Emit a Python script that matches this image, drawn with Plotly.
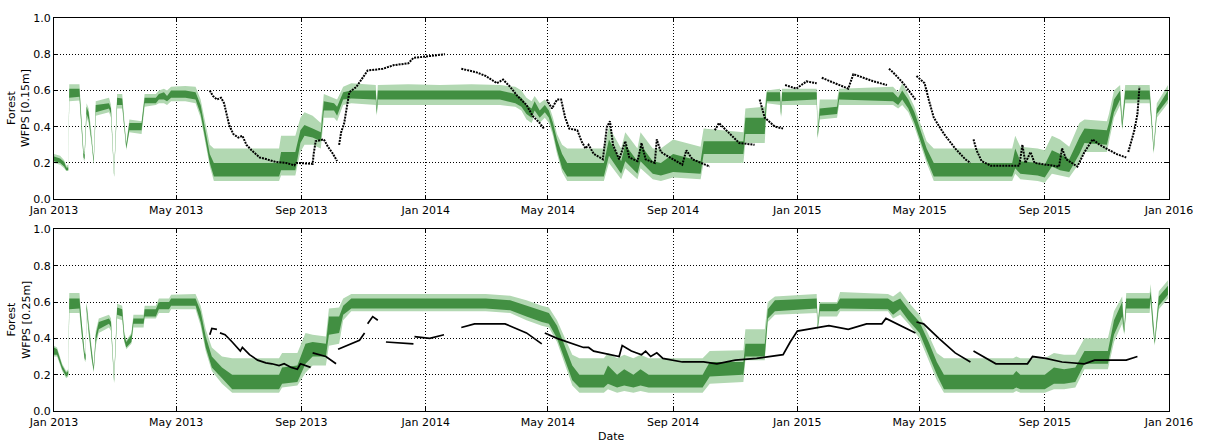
import plotly.graph_objects as go

# ---------------- upper panel (0.15 m) : simulated WFPS bands ----------------
top_dates = [
    "2013-01-01", "2013-01-07", "2013-01-11", "2013-01-13", "2013-01-15", "2013-01-16", "2013-01-26", "2013-01-28", "2013-01-30", "2013-01-31",
    "2013-02-02", "2013-02-04", "2013-02-07", "2013-02-09", "2013-02-11", "2013-02-24", "2013-02-26", "2013-03-01", "2013-03-04", "2013-03-09",
    "2013-03-11", "2013-03-13", "2013-03-16", "2013-03-28", "2013-03-31", "2013-04-11", "2013-04-14", "2013-04-19", "2013-04-22", "2013-04-26",
    "2013-05-10", "2013-05-20", "2013-05-25", "2013-05-30", "2013-06-03", "2013-06-07", "2013-08-10", "2013-08-12", "2013-08-26", "2013-08-31",
    "2013-09-04", "2013-09-12", "2013-09-20", "2013-09-23", "2013-10-03", "2013-10-06", "2013-10-12", "2013-10-20", "2013-11-13", "2013-11-14",
    "2013-11-15", "2013-12-15", "2014-01-15", "2014-02-15", "2014-03-15", "2014-03-30", "2014-04-05", "2014-04-10", "2014-04-15", "2014-04-18",
    "2014-04-23", "2014-04-28", "2014-05-02", "2014-05-06", "2014-05-10", "2014-05-15", "2014-05-20", "2014-06-25", "2014-06-30", "2014-07-12",
    "2014-07-16", "2014-07-28", "2014-07-31", "2014-08-12", "2014-08-20", "2014-09-01", "2014-09-28", "2014-10-01", "2014-11-09", "2014-11-11",
    "2014-11-30", "2014-12-02", "2014-12-15", "2014-12-16", "2014-12-17", "2015-01-20", "2015-01-21", "2015-01-23", "2015-02-09", "2015-02-11",
    "2015-04-05", "2015-04-10", "2015-04-14", "2015-04-20", "2015-04-26", "2015-05-02", "2015-05-08", "2015-05-15", "2015-07-31", "2015-08-03",
    "2015-08-08", "2015-08-25", "2015-09-01", "2015-09-08", "2015-09-16", "2015-09-25", "2015-10-05", "2015-10-10", "2015-11-01", "2015-11-03",
    "2015-11-08", "2015-11-14", "2015-11-16", "2015-11-19", "2015-12-13", "2015-12-17", "2015-12-20", "2015-12-31",
]
top_outer_lo = [
    0.20, 0.19, 0.17, 0.155, 0.155, 0.54, 0.545, 0.38, 0.22, 0.21,
    0.45, 0.42, 0.30, 0.19, 0.46, 0.48, 0.45, 0.12, 0.50, 0.50,
    0.38, 0.27, 0.37, 0.36, 0.51, 0.52, 0.53, 0.53, 0.52, 0.54,
    0.54, 0.53, 0.45, 0.30, 0.18, 0.10, 0.10, 0.13, 0.13, 0.26,
    0.30, 0.30, 0.28, 0.45, 0.45, 0.43, 0.52, 0.53, 0.52, 0.46,
    0.52, 0.52, 0.52, 0.52, 0.52, 0.51, 0.49, 0.44, 0.42, 0.46,
    0.42, 0.45, 0.42, 0.35, 0.25, 0.15, 0.10, 0.10, 0.20, 0.11,
    0.17, 0.11, 0.17, 0.11, 0.10, 0.12, 0.11, 0.20, 0.20, 0.31,
    0.31, 0.53, 0.52, 0.45, 0.52, 0.52, 0.33, 0.44, 0.45, 0.52,
    0.52, 0.50, 0.52, 0.48, 0.40, 0.30, 0.20, 0.10, 0.10, 0.14,
    0.11, 0.10, 0.09, 0.14, 0.13, 0.12, 0.20, 0.26, 0.26, 0.30,
    0.45, 0.52, 0.38, 0.53, 0.53, 0.25, 0.45, 0.53,
]
top_inner_lo = [
    0.21, 0.20, 0.18, 0.16, 0.16, 0.56, 0.565, 0.40, 0.23, 0.22,
    0.47, 0.44, 0.31, 0.20, 0.48, 0.50, 0.47, 0.125, 0.52, 0.52,
    0.39, 0.28, 0.38, 0.38, 0.53, 0.53, 0.55, 0.55, 0.54, 0.56,
    0.56, 0.55, 0.47, 0.32, 0.20, 0.125, 0.125, 0.16, 0.16, 0.31,
    0.35, 0.34, 0.32, 0.49, 0.49, 0.46, 0.55, 0.555, 0.55, 0.47,
    0.55, 0.55, 0.55, 0.55, 0.55, 0.53, 0.51, 0.47, 0.45, 0.49,
    0.45, 0.48, 0.45, 0.37, 0.27, 0.17, 0.125, 0.125, 0.24, 0.14,
    0.21, 0.14, 0.21, 0.14, 0.13, 0.15, 0.14, 0.25, 0.25, 0.36,
    0.36, 0.54, 0.54, 0.46, 0.54, 0.55, 0.34, 0.46, 0.47, 0.55,
    0.54, 0.52, 0.55, 0.50, 0.42, 0.32, 0.22, 0.125, 0.125, 0.17,
    0.14, 0.13, 0.12, 0.18, 0.16, 0.15, 0.25, 0.31, 0.30, 0.34,
    0.48, 0.55, 0.39, 0.55, 0.55, 0.26, 0.47, 0.55,
]
top_inner_hi = [
    0.235, 0.225, 0.205, 0.175, 0.175, 0.61, 0.61, 0.44, 0.255, 0.245,
    0.51, 0.48, 0.34, 0.22, 0.52, 0.53, 0.50, 0.14, 0.56, 0.555,
    0.42, 0.30, 0.42, 0.42, 0.56, 0.56, 0.58, 0.59, 0.57, 0.60,
    0.60, 0.59, 0.52, 0.38, 0.25, 0.20, 0.20, 0.26, 0.26, 0.38,
    0.41, 0.39, 0.37, 0.54, 0.53, 0.51, 0.59, 0.60, 0.60, 0.50,
    0.60, 0.60, 0.60, 0.60, 0.60, 0.58, 0.56, 0.52, 0.50, 0.54,
    0.49, 0.52, 0.49, 0.42, 0.33, 0.25, 0.20, 0.20, 0.33, 0.21,
    0.30, 0.21, 0.30, 0.21, 0.20, 0.25, 0.21, 0.32, 0.32, 0.45,
    0.45, 0.59, 0.59, 0.48, 0.59, 0.59, 0.37, 0.50, 0.51, 0.59,
    0.59, 0.56, 0.60, 0.55, 0.48, 0.38, 0.28, 0.20, 0.20, 0.28,
    0.21, 0.20, 0.19, 0.27, 0.25, 0.22, 0.34, 0.39, 0.38, 0.42,
    0.55, 0.60, 0.42, 0.60, 0.60, 0.28, 0.50, 0.60,
]
top_outer_hi = [
    0.25, 0.24, 0.215, 0.185, 0.19, 0.635, 0.635, 0.46, 0.27, 0.26,
    0.53, 0.50, 0.36, 0.23, 0.54, 0.56, 0.52, 0.15, 0.58, 0.58,
    0.44, 0.31, 0.44, 0.43, 0.58, 0.58, 0.60, 0.61, 0.60, 0.62,
    0.625, 0.62, 0.55, 0.42, 0.30, 0.28, 0.28, 0.35, 0.35, 0.45,
    0.48, 0.46, 0.42, 0.58, 0.56, 0.55, 0.62, 0.64, 0.63, 0.52,
    0.63, 0.635, 0.63, 0.635, 0.63, 0.62, 0.60, 0.56, 0.54, 0.57,
    0.53, 0.55, 0.52, 0.45, 0.36, 0.30, 0.28, 0.28, 0.40, 0.28,
    0.37, 0.28, 0.37, 0.28, 0.28, 0.33, 0.29, 0.39, 0.37, 0.50,
    0.51, 0.60, 0.61, 0.50, 0.61, 0.61, 0.40, 0.55, 0.55, 0.61,
    0.62, 0.59, 0.64, 0.58, 0.51, 0.42, 0.32, 0.28, 0.28, 0.35,
    0.29, 0.28, 0.27, 0.35, 0.33, 0.29, 0.42, 0.44, 0.43, 0.47,
    0.60, 0.63, 0.45, 0.63, 0.63, 0.30, 0.53, 0.63,
]

# upper panel : measured WFPS (None marks a break in the record)
top_obs_dates = [
    "2013-06-03", "2013-06-06", "2013-06-10", "2013-06-14", "2013-06-17", "2013-06-19", "2013-06-22", "2013-06-26", "2013-07-01", "2013-07-05",
    "2013-07-09", "2013-07-14", "2013-07-22", "2013-07-29", "2013-08-07", "2013-08-17", "2013-08-25", "2013-08-27", "2013-09-12", "2013-09-13",
    "2013-09-15", "2013-09-23", "2013-09-27", "2013-10-02", "2013-10-06", None,
    "2013-10-08", "2013-10-10", "2013-10-13", "2013-10-15", "2013-10-18", "2013-10-25", "2013-11-01", "2013-11-05", "2013-11-20", "2013-12-01",
    "2013-12-15", "2013-12-20", "2014-01-05", "2014-01-20", None,
    "2014-02-05", "2014-02-20", "2014-03-01", "2014-03-12", "2014-03-18", "2014-03-25", "2014-04-01", "2014-04-10", "2014-04-16", "2014-04-23",
    "2014-04-27", None,
    "2014-04-30", "2014-05-05", "2014-05-10", "2014-05-14", "2014-05-18", "2014-05-22", "2014-05-30", "2014-06-03", "2014-06-07", "2014-06-10",
    "2014-06-15", "2014-06-24", "2014-06-28", "2014-07-01", "2014-07-04", "2014-07-10", "2014-07-16", "2014-07-20", "2014-07-28", "2014-08-01",
    "2014-08-05", "2014-08-14", "2014-08-16", "2014-08-20", "2014-09-10", "2014-09-14", "2014-09-20", "2014-10-07", None,
    "2014-10-12", "2014-10-16", "2014-10-25", "2014-11-05", "2014-11-20", None,
    "2014-11-25", "2014-11-30", "2014-12-10", "2014-12-18", None,
    "2014-12-20", "2014-12-31", "2015-01-10", "2015-01-20", None,
    "2015-01-25", "2015-02-20", "2015-02-25", "2015-03-17", "2015-03-30", None,
    "2015-04-01", "2015-04-05", "2015-04-15", "2015-04-27", None,
    "2015-04-28", "2015-05-06", "2015-05-10", "2015-05-15", "2015-05-25", "2015-06-05", "2015-06-15", "2015-06-20", None,
    "2015-06-23", "2015-06-26", "2015-07-01", "2015-07-10", "2015-08-07", "2015-08-10", "2015-08-13", "2015-08-18", "2015-08-22", "2015-09-15",
    "2015-09-18", "2015-09-22", "2015-10-03", "2015-10-10", "2015-10-18", "2015-10-25", "2015-11-10", "2015-11-20", None,
    "2015-11-22", "2015-11-28", "2015-12-01", "2015-12-03",
]
top_obs_values = [
    0.60, 0.57, 0.55, 0.56, 0.53, 0.48, 0.41, 0.36, 0.34, 0.35,
    0.30, 0.27, 0.23, 0.22, 0.205, 0.20, 0.187, 0.20, 0.195, 0.25,
    0.32, 0.33, 0.29, 0.25, 0.21, None,
    0.30, 0.37, 0.42, 0.49, 0.59, 0.62, 0.68, 0.71, 0.72, 0.74,
    0.75, 0.78, 0.79, 0.80, None,
    0.72, 0.70, 0.68, 0.64, 0.66, 0.62, 0.57, 0.52, 0.46, 0.42,
    0.39, None,
    0.55, 0.50, 0.55, 0.55, 0.45, 0.39, 0.38, 0.32, 0.28, 0.30,
    0.25, 0.22, 0.40, 0.43, 0.30, 0.22, 0.32, 0.23, 0.21, 0.31,
    0.22, 0.20, 0.33, 0.26, 0.19, 0.27, 0.22, 0.18, None,
    0.38, 0.42, 0.37, 0.31, 0.30, None,
    0.55, 0.45, 0.40, 0.39, None,
    0.63, 0.61, 0.65, 0.64, None,
    0.67, 0.61, 0.69, 0.65, 0.63, None,
    0.72, 0.70, 0.64, 0.55, None,
    0.68, 0.64, 0.55, 0.45, 0.36, 0.28, 0.22, 0.20, None,
    0.33, 0.27, 0.21, 0.185, 0.185, 0.30, 0.20, 0.26, 0.20, 0.18,
    0.28, 0.22, 0.18, 0.26, 0.33, 0.30, 0.25, 0.23, None,
    0.26, 0.38, 0.47, 0.62,
]

# ---------------- lower panel (0.25 m) : simulated WFPS bands ----------------
bot_dates = [
    "2013-01-01", "2013-01-04", "2013-01-09", "2013-01-13", "2013-01-15", "2013-01-16", "2013-01-26", "2013-01-28", "2013-01-31", "2013-02-01",
    "2013-02-02", "2013-02-04", "2013-02-07", "2013-02-09", "2013-02-11", "2013-02-14", "2013-02-24", "2013-02-26", "2013-03-01", "2013-03-04",
    "2013-03-09", "2013-03-11", "2013-03-13", "2013-03-18", "2013-03-20", "2013-03-30", "2013-03-31", "2013-04-11", "2013-04-14", "2013-04-24",
    "2013-04-26", "2013-05-20", "2013-05-25", "2013-05-30", "2013-06-05", "2013-06-15", "2013-06-25", "2013-08-10", "2013-08-13", "2013-08-28",
    "2013-09-05", "2013-09-12", "2013-09-25", "2013-09-28", "2013-10-08", "2013-10-12", "2013-10-20", "2014-03-01", "2014-03-25", "2014-04-10",
    "2014-04-25", "2014-05-02", "2014-05-10", "2014-05-18", "2014-05-25", "2014-06-01", "2014-06-25", "2014-06-29", "2014-07-08", "2014-07-15",
    "2014-07-24", "2014-07-31", "2014-08-08", "2014-09-30", "2014-10-07", "2014-11-09", "2014-11-11", "2014-11-30", "2014-12-03", "2014-12-10",
    "2015-01-20", "2015-01-21", "2015-01-23", "2015-02-09", "2015-02-12", "2015-03-31", "2015-04-05", "2015-04-12", "2015-04-20", "2015-05-01",
    "2015-05-10", "2015-05-18", "2015-05-25", "2015-08-01", "2015-08-04", "2015-08-08", "2015-09-01", "2015-09-10", "2015-09-20", "2015-10-01",
    "2015-10-10", "2015-11-02", "2015-11-08", "2015-11-16", "2015-11-18", "2015-11-20", "2015-12-13", "2015-12-14", "2015-12-16", "2015-12-18",
    "2015-12-22", "2015-12-31",
]
bot_outer_lo = [
    0.30, 0.30, 0.22, 0.18, 0.19, 0.54, 0.54, 0.42, 0.28, 0.27,
    0.55, 0.42, 0.28, 0.21, 0.36, 0.43, 0.46, 0.44, 0.15, 0.51,
    0.50, 0.38, 0.34, 0.37, 0.46, 0.46, 0.51, 0.51, 0.54, 0.54,
    0.56, 0.56, 0.47, 0.33, 0.22, 0.15, 0.10, 0.10, 0.13, 0.14,
    0.21, 0.25, 0.25, 0.36, 0.37, 0.50, 0.55, 0.55, 0.54, 0.50,
    0.47, 0.46, 0.38, 0.25, 0.14, 0.10, 0.10, 0.12, 0.10, 0.11,
    0.10, 0.11, 0.10, 0.10, 0.15, 0.16, 0.28, 0.28, 0.49, 0.53,
    0.54, 0.44, 0.52, 0.52, 0.55, 0.55, 0.51, 0.53, 0.48, 0.40,
    0.28, 0.17, 0.10, 0.10, 0.11, 0.10, 0.10, 0.12, 0.12, 0.13,
    0.23, 0.23, 0.38, 0.48, 0.42, 0.54, 0.54, 0.60, 0.45, 0.36,
    0.56, 0.62,
]
bot_inner_lo = [
    0.31, 0.31, 0.23, 0.19, 0.20, 0.56, 0.565, 0.44, 0.29, 0.28,
    0.56, 0.44, 0.29, 0.22, 0.38, 0.45, 0.48, 0.46, 0.16, 0.53,
    0.52, 0.39, 0.35, 0.38, 0.48, 0.48, 0.52, 0.52, 0.56, 0.56,
    0.58, 0.58, 0.49, 0.35, 0.24, 0.18, 0.12, 0.12, 0.15, 0.16,
    0.26, 0.30, 0.30, 0.42, 0.43, 0.53, 0.565, 0.565, 0.555, 0.52,
    0.49, 0.48, 0.40, 0.28, 0.17, 0.13, 0.13, 0.15, 0.13, 0.14,
    0.13, 0.14, 0.13, 0.13, 0.19, 0.20, 0.30, 0.30, 0.51, 0.55,
    0.565, 0.45, 0.55, 0.55, 0.565, 0.56, 0.53, 0.56, 0.50, 0.43,
    0.31, 0.20, 0.12, 0.12, 0.13, 0.12, 0.12, 0.15, 0.15, 0.16,
    0.26, 0.26, 0.42, 0.52, 0.43, 0.565, 0.565, 0.62, 0.47, 0.37,
    0.58, 0.64,
]
bot_inner_hi = [
    0.35, 0.34, 0.25, 0.21, 0.22, 0.62, 0.62, 0.48, 0.32, 0.31,
    0.59, 0.47, 0.31, 0.24, 0.42, 0.49, 0.51, 0.49, 0.18, 0.57,
    0.56, 0.42, 0.38, 0.42, 0.51, 0.51, 0.56, 0.56, 0.60, 0.60,
    0.62, 0.62, 0.55, 0.41, 0.30, 0.24, 0.20, 0.20, 0.24, 0.25,
    0.37, 0.38, 0.37, 0.52, 0.52, 0.58, 0.62, 0.62, 0.61, 0.58,
    0.55, 0.54, 0.47, 0.35, 0.25, 0.20, 0.20, 0.25, 0.20, 0.23,
    0.20, 0.23, 0.20, 0.20, 0.27, 0.27, 0.37, 0.37, 0.56, 0.61,
    0.62, 0.47, 0.59, 0.59, 0.62, 0.62, 0.60, 0.62, 0.56, 0.49,
    0.38, 0.27, 0.20, 0.20, 0.22, 0.20, 0.20, 0.24, 0.23, 0.24,
    0.33, 0.33, 0.50, 0.60, 0.45, 0.62, 0.62, 0.66, 0.52, 0.39,
    0.63, 0.69,
]
bot_outer_hi = [
    0.36, 0.35, 0.26, 0.22, 0.23, 0.65, 0.65, 0.50, 0.33, 0.32,
    0.60, 0.49, 0.33, 0.25, 0.44, 0.51, 0.53, 0.51, 0.19, 0.59,
    0.58, 0.44, 0.39, 0.43, 0.53, 0.53, 0.58, 0.58, 0.62, 0.62,
    0.64, 0.645, 0.58, 0.45, 0.35, 0.30, 0.29, 0.29, 0.32, 0.32,
    0.43, 0.42, 0.41, 0.565, 0.57, 0.62, 0.645, 0.645, 0.635, 0.61,
    0.58, 0.57, 0.50, 0.40, 0.31, 0.29, 0.29, 0.32, 0.29, 0.31,
    0.29, 0.31, 0.29, 0.29, 0.33, 0.335, 0.45, 0.45, 0.60, 0.63,
    0.645, 0.48, 0.60, 0.60, 0.655, 0.645, 0.63, 0.66, 0.60, 0.53,
    0.42, 0.32, 0.29, 0.29, 0.30, 0.29, 0.29, 0.32, 0.31, 0.31,
    0.40, 0.40, 0.55, 0.63, 0.47, 0.65, 0.65, 0.70, 0.55, 0.40,
    0.66, 0.72,
]

# lower panel : measured WFPS
bot_obs_dates = [
    "2013-06-03", "2013-06-05", "2013-06-10", None,
    "2013-06-13", "2013-06-18", "2013-06-25", "2013-07-03", "2013-07-05", "2013-07-12", "2013-07-20", "2013-07-28", "2013-08-03", "2013-08-10",
    "2013-08-15", "2013-08-22", "2013-08-28", "2013-08-31", "2013-09-10", None,
    "2013-09-12", "2013-09-25", "2013-10-05", None,
    "2013-10-07", "2013-10-28", "2013-11-02", None,
    "2013-11-05", "2013-11-10", "2013-11-15", None,
    "2013-11-23", "2013-12-20", None,
    "2013-12-21", "2014-01-05", "2014-01-19", None,
    "2014-02-05", "2014-02-18", "2014-03-20", "2014-04-10", "2014-04-25", None,
    "2014-04-28", "2014-05-10", "2014-06-05", "2014-06-10", "2014-06-15", "2014-07-10", "2014-07-13", "2014-07-22", "2014-08-01", "2014-08-05",
    "2014-08-10", "2014-08-16", "2014-08-22", "2014-09-10", "2014-10-01", "2014-10-14", "2014-11-01", "2014-11-22", "2014-12-18", "2014-12-25",
    "2015-01-01", "2015-01-20", "2015-02-01", "2015-02-20", "2015-03-10", "2015-03-25", "2015-03-29", "2015-04-27", None,
    "2015-04-28", "2015-05-05", "2015-05-20", "2015-06-05", "2015-06-20", None,
    "2015-06-23", "2015-07-15", "2015-08-15", "2015-08-20", "2015-09-02", "2015-09-18", "2015-10-10", "2015-10-20", "2015-11-20", "2015-12-01",
]
bot_obs_values = [
    0.42, 0.455, 0.45, None,
    0.43, 0.42, 0.38, 0.33, 0.35, 0.31, 0.28, 0.265, 0.26, 0.25,
    0.26, 0.24, 0.23, 0.26, 0.24, None,
    0.32, 0.30, 0.26, None,
    0.34, 0.39, 0.43, None,
    0.48, 0.52, 0.50, None,
    0.38, 0.37, None,
    0.41, 0.40, 0.42, None,
    0.46, 0.48, 0.48, 0.43, 0.37, None,
    0.43, 0.40, 0.35, 0.35, 0.33, 0.30, 0.36, 0.33, 0.31, 0.33,
    0.30, 0.32, 0.29, 0.27, 0.27, 0.26, 0.28, 0.29, 0.31, 0.38,
    0.44, 0.46, 0.47, 0.45, 0.48, 0.48, 0.51, 0.43, None,
    0.49, 0.48, 0.40, 0.32, 0.27, None,
    0.33, 0.26, 0.26, 0.30, 0.29, 0.27, 0.26, 0.28, 0.28, 0.30,
]

OUTER_FILL = "#b2d8b2"
INNER_FILL = "#428f42"
FONT = "DejaVu Sans"

fig = go.Figure()


def add_band(dates, lo, hi, color, xa, ya):
    assert len(dates) == len(lo) == len(hi)
    fig.add_trace(go.Scatter(
        x=list(dates) + list(dates[::-1]),
        y=list(hi) + list(lo[::-1]),
        fill="toself", fillcolor=color, mode="lines", line=dict(width=0),
        hoverinfo="skip", showlegend=False, xaxis=xa, yaxis=ya,
    ))


add_band(top_dates, top_outer_lo, top_outer_hi, OUTER_FILL, "x", "y")
add_band(top_dates, top_inner_lo, top_inner_hi, INNER_FILL, "x", "y")
fig.add_trace(go.Scatter(
    x=top_obs_dates, y=top_obs_values, mode="lines",
    line=dict(color="black", width=2, dash="2px,1px"),
    showlegend=False, xaxis="x", yaxis="y",
))

add_band(bot_dates, bot_outer_lo, bot_outer_hi, OUTER_FILL, "x2", "y2")
add_band(bot_dates, bot_inner_lo, bot_inner_hi, INNER_FILL, "x2", "y2")
fig.add_trace(go.Scatter(
    x=bot_obs_dates, y=bot_obs_values, mode="lines",
    line=dict(color="black", width=1.7),
    showlegend=False, xaxis="x2", yaxis="y2",
))

xcommon = dict(
    type="date", range=["2013-01-01", "2016-01-01"], tick0="2013-01-01", dtick="M4",
    tickformat="%b %Y", showline=True, linecolor="black", linewidth=1, mirror="allticks",
    ticks="inside", ticklen=4, tickcolor="black", showgrid=True, gridcolor="black",
    gridwidth=1, griddash="1px,2px", zeroline=False, ticklabelstandoff=1,
    tickfont=dict(family=FONT, size=11, color="black"),
)
ycommon = dict(
    range=[0, 1], dtick=0.2, tickformat=".1f", showline=True, linecolor="black",
    linewidth=1, mirror="allticks", ticks="inside", ticklen=4, tickcolor="black",
    showgrid=True, gridcolor="black", gridwidth=1, griddash="1px,2px", zeroline=False,
    tickfont=dict(family=FONT, size=11, color="black"),
)

fig.update_layout(
    width=1205, height=445,
    margin=dict(l=54, r=32, t=12, b=34),
    paper_bgcolor="white", plot_bgcolor="white",
    xaxis=dict(domain=[0, 1], anchor="y", **xcommon),
    yaxis=dict(domain=[0.539, 1.0], anchor="x", **ycommon),
    xaxis2=dict(domain=[0, 1], anchor="y2", **xcommon),
    yaxis2=dict(domain=[0.0, 0.462], anchor="x2", **ycommon),
    font=dict(family=FONT, size=11, color="black"),
    annotations=[
        dict(text="Forest<br>WFPS [0.15m]", xref="paper", yref="paper", x=0, y=0.7695,
             xanchor="right", yanchor="middle", xshift=-20, textangle=-90, showarrow=False,
             font=dict(family=FONT, size=11, color="black")),
        dict(text="Forest<br>WFPS [0.25m]", xref="paper", yref="paper", x=0, y=0.231,
             xanchor="right", yanchor="middle", xshift=-20, textangle=-90, showarrow=False,
             font=dict(family=FONT, size=11, color="black")),
        dict(text="Date", xref="paper", yref="paper", x=0.5, y=-0.065,
             xanchor="center", yanchor="middle", showarrow=False,
             font=dict(family=FONT, size=11, color="black")),
    ],
)

fig.write_html("out.html")
